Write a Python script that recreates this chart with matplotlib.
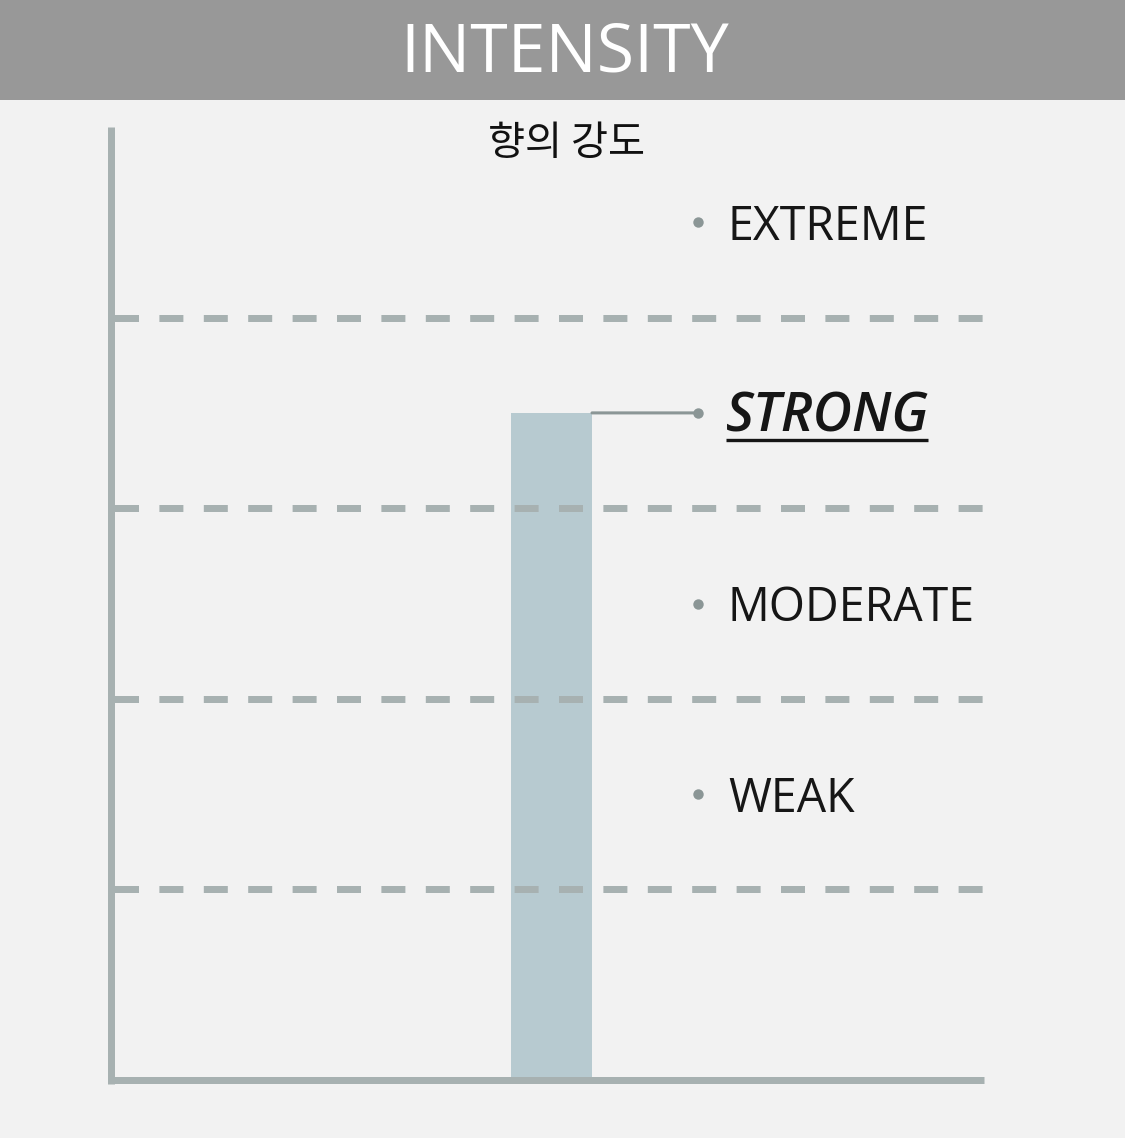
import matplotlib
matplotlib.use("Agg")
import matplotlib.pyplot as plt
from matplotlib.patches import Rectangle
from matplotlib.transforms import offset_copy

# ---- data ----
title = "INTENSITY"
subtitle = "향의 강도"
levels = ["WEAK", "MODERATE", "STRONG", "EXTREME"]
level_pos = [1.5, 2.5, 3.5, 4.5]
boundaries = [1, 2, 3, 4]
bar_value = 3.5
selected = "STRONG"

BG = "#f2f2f2"
HEADER = "#989898"
AXIS = "#a7b1b1"
BAR = "#b7cad0"
DOT = "#8b9696"
TXT = "#161616"

plt.rcParams['font.family'] = ['Open Sans', 'Noto Sans CJK KR', 'DejaVu Sans']

W, H = 1125, 1138
PX = 72 / 100  # points per pixel
fig = plt.figure(figsize=(W / 100, H / 100), dpi=100, facecolor=BG)

# header band
fig.patches.append(Rectangle((0, 1 - 100 / H), 1, 100 / H, transform=fig.transFigure,
                             facecolor=HEADER, edgecolor='none', zorder=0))
fig.text(565 / W, 1 - 72 / H, title, color='white', fontsize=49,
         ha='center', va='baseline', family=['Open Sans', 'DejaVu Sans'])

left_px, right_px, bot_px, top_px = 110.5, 984, 1080, 127
ax = fig.add_axes([left_px / W, 1 - bot_px / H, (right_px - left_px) / W, (bot_px - top_px) / H])
ax.set_facecolor(BG)
ax.set_ylim(0, 5)

# x scale: bar centered, width 0.8 -> 81 px
px_per_unit = 81 / 0.8
bar_center_px = 551.5
ax.set_xlim((left_px - bar_center_px) / px_per_unit, (right_px - bar_center_px) / px_per_unit)

for s in ['top', 'right']:
    ax.spines[s].set_visible(False)
for s in ['left', 'bottom']:
    ax.spines[s].set_color(AXIS)
    ax.spines[s].set_linewidth(7 * PX)
    ax.spines[s].set_capstyle('butt')
    ax.spines[s].set_zorder(4)
ax.spines['left'].set_bounds(-0.02, 5)

ax.set_yticks(boundaries)
ax.set_xticks([])
ax.tick_params(axis='y', length=0, labelleft=False)
lw_px = 7.0
ax.yaxis.grid(True, color=AXIS, linewidth=lw_px * PX,
              linestyle=(40.9 / lw_px, (24 / lw_px, 20.4 / lw_px)), zorder=2.5)
ax.set_axisbelow(False)

ax.bar([0], [bar_value], width=0.8, color=BAR, zorder=1)

# labels
dot_x = (698 - left_px) / (right_px - left_px)
text_x = (728 - left_px) / (right_px - left_px)
tr = ax.get_yaxis_transform()
tr_text = offset_copy(tr, fig=fig, x=0, y=-17.5, units='dots')
tr_sel = offset_copy(tr, fig=fig, x=0, y=-18.5, units='dots')
for name, y in zip(levels, level_pos):
    ax.plot([dot_x], [y], 'o', color=DOT, markersize=7.5, markeredgewidth=0,
            transform=tr, zorder=3, clip_on=False)
    if name == selected:
        ax.text(text_x - 0.002, y, name, transform=tr_sel, fontsize=39, color=TXT,
                ha='left', va='baseline', fontweight='semibold', fontstyle='italic')
    else:
        ax.text(text_x, y, name, transform=tr_text, fontsize=33.5, color=TXT, ha='left',
                va='baseline')

# connector from bar top to selected dot
ax.annotate('', xy=(dot_x, bar_value), xycoords=tr,
            xytext=(0.4, bar_value), textcoords='data',
            arrowprops=dict(arrowstyle='-', color=DOT, lw=2.2, shrinkA=0, shrinkB=0),
            zorder=3)

# underline for selected
uy = H - 440
ax.plot([726, 928], [uy, uy], color=TXT, lw=2.4,
        transform=None, clip_on=False, solid_capstyle='butt')

# subtitle
fig.text(567 / W, 1 - 144 / H, subtitle, fontsize=29, color='#111111',
         ha='center', va='center', family=['Noto Sans CJK KR', 'DejaVu Sans'])

fig.savefig("out.png", dpi=100, facecolor=BG)
